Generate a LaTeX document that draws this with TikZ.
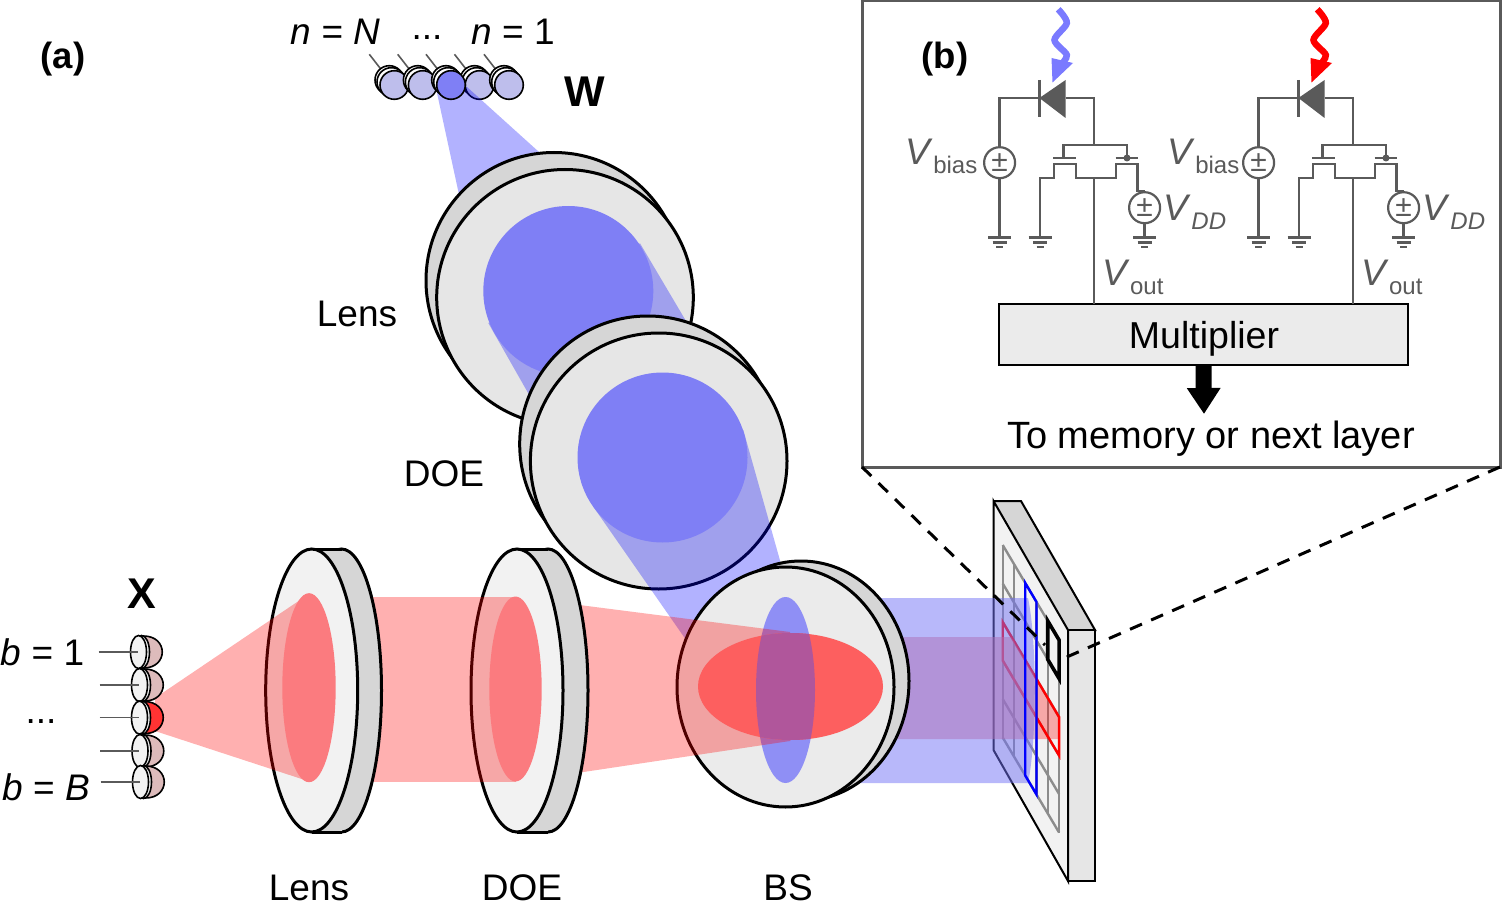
\documentclass[tikz,border=0pt]{standalone}
\usepackage{fontspec}
\setmainfont{Liberation Sans}
\usetikzlibrary{arrows.meta}

\definecolor{circuit}{HTML}{5A5A5A}
\definecolor{discface}{HTML}{E6E6E6}
\definecolor{discside}{HTML}{D6D6D6}
\definecolor{lensface}{HTML}{F2F2F2}
\definecolor{splitface}{HTML}{EBEBEB}
\definecolor{spotblue}{HTML}{7F7FF5}
\definecolor{spotred}{HTML}{FB7B7F}
\definecolor{rightblue}{HTML}{7171F5}
\definecolor{overlap}{HTML}{AE70B6}
\definecolor{ledblue}{HTML}{BEBEEC}
\definecolor{ledred}{HTML}{DDBBBB}
\definecolor{ellblue}{HTML}{8F8FF5}
\definecolor{ellred}{HTML}{FD5F5F}
\definecolor{ellmix}{HTML}{B0569B}

\newcommand{\vsub}[1]{\textit{V}\raisebox{-9pt}{\fontsize{24}{24}\selectfont #1}}

% Tilted round disc, back face up and left of the front one
\newcommand{\rounddisc}[2]{
  \draw[discedge,fill=discside] (#1-11,#2-17) ellipse [x radius=128pt,y radius=128pt];
  \draw[discedge,fill=discface] (#1,#2) ellipse [x radius=128.3pt,y radius=128pt];
}
% Disc seen from the side: front centre, back centre
\newcommand{\sidedisc}[2]{
  \draw[discedge,fill=discside] (#2,690.5) ellipse [x radius=40pt,y radius=141.5pt];
  \fill[discside] (#1,549) rectangle (#2,832);
  \draw[discedge] (#1,549) -- (#2,549) (#1,832) -- (#2,832);
  \draw[discedge,fill=lensface] (#1,690.5) ellipse [x radius=46pt,y radius=141.5pt];
}
\newcommand{\ground}[1]{
  \draw[wire] (#1-11.5,237.7) -- (#1+11.5,237.7);
  \draw[wire] (#1-7,242.7) -- (#1+7,242.7);
  \draw[wire] (#1-3.5,247.3) -- (#1+3.5,247.3);
}
\newcommand{\wsource}[2]{
  \coordinate (w-\name) at (#1-25,54.3);
  \draw[pinwire] (w-\name) -- (#1-12,71);
  \draw[ledline,fill=white] (#1-5,80) circle [radius=14.3pt];
  \draw[ledline,fill=white] (#1-3,82) circle [radius=14.3pt];
  \draw[ledline,fill=#2] (#1,85) circle [radius=14.3pt];
}

\begin{document}
\begin{tikzpicture}[x=1pt,y=-1pt]
  \tikzstyle{discedge}=[draw=black,line width=3pt]
  \tikzstyle{ledline}=[draw=black,line width=1.6pt]
  \tikzstyle{pinwire}=[draw=circuit,line width=1.6pt]
  \tikzstyle{wire}=[draw=circuit,line width=2.4pt]
  \tikzstyle{bluebeam}=[fill=blue,fill opacity=0.3]
  \tikzstyle{redbeam}=[fill=red,fill opacity=0.31]
  \tikzstyle{tag}=[inner sep=0pt,font=\fontsize{37}{40}\selectfont]
  \tikzstyle{bigtag}=[inner sep=0pt,font=\fontsize{43}{46}\selectfont\bfseries]
  \tikzstyle{parttag}=[inner sep=0pt,font=\fontsize{36.5}{40}\selectfont\bfseries]
  \tikzstyle{voltage}=[tag,text=circuit]
  \tikzstyle{supply}=[circle,draw=circuit,line width=2.2pt,fill=white,inner sep=0pt,
    minimum size=31pt,text=circuit,font=\fontsize{30}{30}\selectfont]
  \tikzstyle{panelcells}=[shift={(1002.7,545)},x={(11.27,19)},y={(0,38.5)}]
  \useasboundingbox (0,0) rectangle (1502,912);

  % Draw the W sources, the fan of light and the middle source
  \foreach \name / \x in {1/394.3,2/422.7,4/479.5,5/509}
  {
      \wsource{\x}{ledblue}
  }
  \path[bluebeam] (437,93) -- (467,87) -- (570,180) -- (471,250) -- cycle;
  \def\name{3}
  \wsource{451}{spotblue}

  % Top lens and DOE, with their beams
  \rounddisc{565}{297.5}
  \path[bluebeam] (640,243.3) -- (699,343) -- (540,414) -- (488.3,323) -- (568,291) -- cycle;
  \fill[spotblue] (568.3,291) circle [radius=85pt];
  \rounddisc{658.7}{461}
  \path[bluebeam] (743.3,430) -- (790,596) -- (700,660) -- (593.3,506.7) -- (662,457) -- cycle;
  \fill[spotblue] (662.5,457.5) circle [radius=85pt];

  % Draw the panel with its grid
  \fill[discside] (993.5,501) -- (1021,501) -- (1095,630) -- (1068,630) -- cycle;
  \draw[ledline,line width=2pt] (993.5,501) -- (1021,501) -- (1095,630) -- (1068,630);
  \draw[ledline,line width=2pt,fill=discface] (1068,630) -- (1095,630) -- (1095,881) -- (1068,881) -- cycle;
  \draw[ledline,line width=2pt,fill=lensface] (993.5,501) -- (1068,630) -- (1068,881) -- (993.5,750) -- cycle;
  \begin{scope}[panelcells]
    \foreach \i in {0,...,5}
        \draw[line width=2.4pt,draw=gray!90] (\i,0) -- (\i,5);
    \foreach \j in {0,...,5}
        \draw[line width=2.4pt,draw=gray!90] (0,\j) -- (5,\j);
  \end{scope}
  \path[redbeam] (1037,681) -- (1059,718) -- (1059,739) -- (1037,739) -- cycle;
  \begin{scope}[panelcells]
    \draw[line width=2.4pt,draw=red] (0,2) -- (5,2) -- (5,3) -- (0,3) -- cycle;
  \end{scope}

  % Beams leaving the splitter towards the panel
  \fill[rightblue,fill opacity=0.5] (800,598) -- (1028,598) .. controls (1037,640) and (1037,740) .. (1028,783) -- (800,783) -- cycle;
  \fill[overlap,fill opacity=0.5] (800,637) -- (1011,637) -- (1037,681) -- (1037,739) -- (800,739) -- cycle;
  \begin{scope}[panelcells]
    \draw[line width=2.4pt,draw=blue] (2,0) -- (3,0) -- (3,5) -- (2,5) -- cycle;
    \draw[line width=3.6pt,draw=black] (4,0) -- (5,0) -- (5,1) -- (4,1) -- cycle;
  \end{scope}

  % Draw the splitter
  \draw[discedge,fill=discside] (801,681) ellipse [x radius=108pt,y radius=120pt];
  \draw[discedge,fill=splitface] (785.5,687) ellipse [x radius=108.5pt,y radius=120pt];
  \fill[ellblue] (785.5,690) ellipse [x radius=29.5pt,y radius=93pt];
  \path[redbeam] (517,597) -- (790,632) -- (790,741) -- (517,782) -- cycle;
  \fill[ellred] (790.5,686.5) ellipse [x radius=92.5pt,y radius=53.5pt];
  \begin{scope}
    \clip (785.5,690) ellipse [x radius=29.5pt,y radius=93pt];
    \fill[ellmix] (790.5,686.5) ellipse [x radius=92.5pt,y radius=53.5pt];
  \end{scope}

  % Bottom DOE and lens
  \sidedisc{517}{548}
  \path[redbeam] (312,597) -- (515.5,597) -- (515.5,782) -- (312,782) -- cycle;
  \fill[spotred] (515.5,689) ellipse [x radius=26.2pt,y radius=92.5pt];
  \sidedisc{311.7}{341.5}
  \path[redbeam] (155,698) -- (310,593.3) -- (310,781.7) -- (155,731) -- cycle;
  \fill[spotred] (309,687.7) ellipse [x radius=26.7pt,y radius=94.5pt];

  % Draw the X sources
  \foreach \name / \x / \y / \col in {1/138.5/652/ledred,2/139.5/685/ledred,3/139.5/717.6/red!80!white,4/140/751/ledred,5/140.5/782/ledred}
  {
      \begin{scope}[shift={(\x,\y)}]
        \draw[ledline,fill=\col] (5,-16) .. controls (30,-16) and (30,16) .. (5,16) -- cycle;
        \draw[ledline,fill=lensface] (3,0) ellipse [x radius=8pt,y radius=16.5pt];
        \draw[ledline,fill=lensface] (0,0) ellipse [x radius=8pt,y radius=16.5pt];
        \coordinate (x-\name) at (-40,0);
        \coordinate (y-\name) at (-1,0);
      \end{scope}
      \draw[pinwire] (x-\name) -- (y-\name);
  }

  % Annotate the parts
  \node[parttag] (a-tag) at (63,59) {(a)};
  \node[bigtag] (x-tag) at (142,594) {X};
  \node[bigtag] (w-tag) at (585,92) {W};
  \node[tag] (n-big) at (335.5,32) {\textit{n} = \textit{N}};
  \node[tag] (n-dots) at (427,38) {...};
  \node[tag] (n-one) at (513,32) {\textit{n} = 1};
  \node[tag] (b-one) at (42.5,652) {\textit{b} = 1};
  \node[tag] (b-dots) at (41,722) {...};
  \node[tag] (b-big) at (46,787) {\textit{b} = \textit{B}};
  \node[tag] (lens-top) at (357,314) {Lens};
  \node[tag] (doe-top) at (444,474) {DOE};
  \node[tag] (lens-low) at (309,888) {Lens};
  \node[tag] (doe-low) at (522,888) {DOE};
  \node[tag] (bs-low) at (788,888) {BS};

  % Draw the inset
  \node[draw=circuit,line width=3pt,fill=white,inner sep=0pt,outer sep=0pt,
    minimum width=638pt,minimum height=466pt] (inset) at (1181,234) {};
  \node[parttag] (b-tag) at (945,59) {(b)};
  \node[draw=black,line width=2pt,fill=splitface,inner sep=0pt,outer sep=0pt,
    minimum width=409pt,minimum height=61pt] (mult) at (1203.5,334.5) {};
  \node[tag,font=\fontsize{37.5}{40}\selectfont] (mult-text) at (1204,339) {Multiplier};
  \node[tag,font=\fontsize{38}{40}\selectfont] (memory) at (1211,439) {To memory or next layer};
  \coordinate (arrow-end) at (1204,414);
  \draw[line width=16pt,-{Triangle[length=26pt,width=32pt]}] (mult.south) -- (arrow-end);

  % One photodiode and its transistors for each input
  \foreach \name / \dx / \bx / \col in {A/0/0/blue!52!white,B/259/3/red}
  {
    \begin{scope}[xshift=\dx pt]
      \draw[line width=6.5pt,draw=\col] plot[smooth] coordinates {(1058.2,9.3) (1066.8,23) (1054.5,40) (1066.8,55) (1060.6,65)};
      \fill[\col] (1051.5,58) -- (1073,63) -- (1052.5,82.5) -- cycle;
      \fill[circuit] (1039.4,98) -- (1065.6,80) -- (1065.6,118) -- cycle;
      \coordinate (pd-\name) at (1039.4,98);
      \coordinate (pk-\name) at (1065.6,98);
      \draw[wire] (1039.4,80) -- (1039.4,117);
      \node[supply] (bias-\name) at (999.6,162.7) {±};
      \node[supply] (dd-\name) at (1144.6,207.7) {±};
      \coordinate (gb-\name) at (999.6,237.7);
      \coordinate (gs-\name) at (1040,237.7);
      \coordinate (gd-\name) at (1144.6,237.7);
      \coordinate (top-\name) at (1094,145);
      \coordinate (out-\name) at (1094,178);
      \draw[wire] (pd-\name) -| (bias-\name.north);
      \draw[wire] (bias-\name.south) -- (gb-\name);
      \draw[wire] (pk-\name) -| (top-\name);
      \draw[wire] (1063.5,158) |- (top-\name) -| (1127,158);
      \fill[circuit] (1127,158) circle [radius=3.5pt];
      \draw[wire] (1053,158) -- (1076,158);
      \draw[wire] (1115.5,158) -- (1137.6,158);
      \draw[wire] (gs-\name) |- (1053.7,178) |- (1076,164) |- (1116,178) |- (1137.6,164) |- (dd-\name.north);
      \draw[wire] (dd-\name.south) -- (gd-\name);
      \draw[wire] (out-\name) -- (1094,304);
      \ground{999.6}
      \ground{1040}
      \ground{1144.6}
      \node[voltage,xshift=\bx pt] (vb-\name) at (941.5,156) {\vsub{bias}};
      \node[voltage] (vd-\name) at (1195,212) {\vsub{\textit{DD}}};
      \node[voltage] (vo-\name) at (1133,277) {\vsub{out}};
    \end{scope}
  }

  % Dashed lines from the inset to the marked cell
  \coordinate (cell-l) at (1045,645);
  \coordinate (cell-r) at (1060,660);
  \draw[line width=3pt,dash pattern=on 13pt off 10pt] (inset.south west) -- (cell-l);
  \draw[line width=3pt,dash pattern=on 13pt off 10pt] (inset.south east) -- (cell-r);
\end{tikzpicture}
\end{document}
